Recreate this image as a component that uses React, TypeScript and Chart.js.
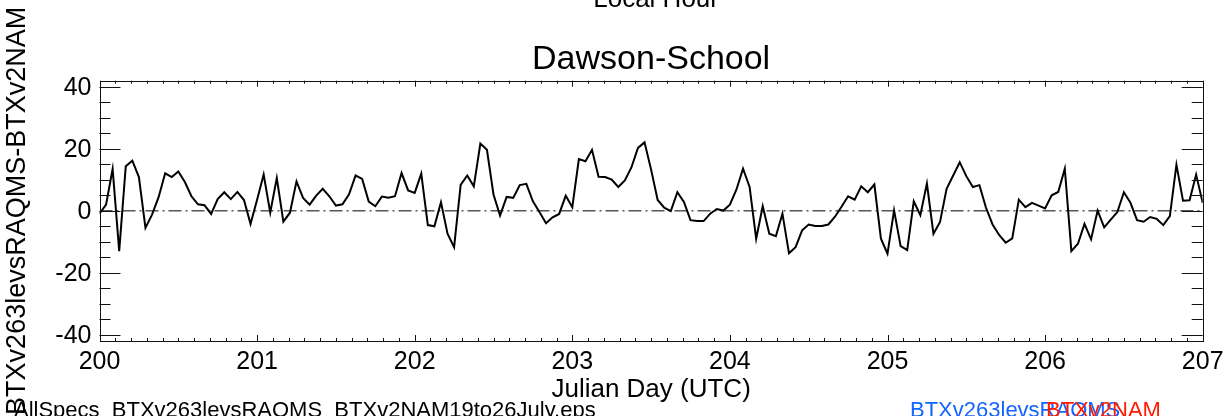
import { useEffect, useRef } from 'react';
import { Chart, registerables } from 'chart.js';

Chart.register(...registerables);

// ---- data ----
const startDay = 200;
const endDay = 207;
const samplesPerDay = 24; // hourly samples
const diffValues: number[] = [
  -0.9, 2.0, 13.5, -13.0, 14.4, 16.2, 10.9, -5.5, -1.2, 4.4, 12.1, 10.9,
  12.7, 9.3, 4.7, 2.1, 1.8, -1.0, 3.8, 6.0, 3.8, 6.1, 3.5, -4.2,
  3.6, 11.7, -0.6, 10.6, -3.5, -0.6, 9.5, 4.2, 2.0, 4.9, 7.1, 4.7,
  1.7, 2.1, 5.3, 11.4, 10.3, 3.0, 1.5, 4.6, 4.2, 4.7, 12.2, 6.6,
  5.8, 12.0, -4.6, -5.0, 2.8, -7.4, -11.7, 8.4, 11.4, 7.9, 21.7, 19.7,
  5.3, -1.5, 4.5, 4.2, 8.3, 8.7, 3.1, -0.4, -4.0, -2.1, -1.0, 4.9,
  1.2, 16.7, 16.0, 19.7, 11.0, 10.9, 10.1, 7.7, 9.8, 14.0, 20.3, 22.1,
  13.3, 3.5, 1.0, -0.1, 6.0, 2.9, -3.0, -3.3, -3.3, -0.9, 0.6, 0.1,
  2.0, 6.9, 13.6, 7.7, -9.0, 1.5, -7.4, -8.2, -0.9, -13.7, -11.7, -6.3,
  -4.4, -4.9, -4.9, -4.4, -1.9, 1.3, 4.7, 3.6, 7.9, 6.0, 8.5, -9.0,
  -13.8, 0.2, -11.4, -12.7, 3.1, -1.4, 8.8, -7.4, -3.6, 7.1, 11.4, 15.7,
  11.2, 7.7, 8.3, 1.0, -4.4, -7.8, -10.3, -8.9, 3.6, 1.2, 2.6, 1.7,
  0.8, 5.0, 6.1, 13.6, -13.0, -10.6, -4.2, -9.2, 0.1, -5.3, -2.8, -0.4,
  6.0, 2.6, -3.0, -3.5, -2.0, -2.6, -4.6, -1.7, 14.9, 3.3, 3.4, 11.7,
  2.6,
];
const zeroLineX = [200, 207];
const zeroLineY = [0, 0];
const xTickDays = [200, 201, 202, 203, 204, 205, 206, 207];
const yTickValues = [-40, -20, 0, 20, 40];
const yMin = -42;
const yMax = 42;
const xMinorStep = 0.1;
const yMinorStep = 5;

const topText = 'Local Hour';
const titleText = 'Dawson-School';
const xAxisTitle = 'Julian Day (UTC)';
const yAxisTitle = 'BTXv263levsRAQMS-BTXv2NAM';
const fileText = 'AllSpecs_BTXv263levsRAQMS_BTXv2NAM19to26July.eps';
const legendBlue = 'BTXv263levsRAQMS';
const legendRed = 'BTXv2NAM';

const FONT = '"Liberation Sans", Arial, Helvetica, sans-serif';

const decorPlugin = {
  id: 'idlDecor',
  afterDraw(chart: any) {
    const { ctx, chartArea } = chart;
    const xs = chart.scales.x;
    const ys = chart.scales.y;
    const { left, right, top, bottom } = chartArea;
    ctx.save();
    ctx.strokeStyle = '#111';
    ctx.lineWidth = 1;
    // frame
    ctx.strokeRect(Math.round(left) + 0.5, Math.round(top) + 0.5, Math.round(right - left), Math.round(bottom - top));

    // x ticks (top and bottom, inward)
    ctx.beginPath();
    const nX = Math.round((endDay - startDay) / xMinorStep);
    for (let i = 0; i <= nX; i++) {
      const v = startDay + i * xMinorStep;
      const major = i % 10 === 0;
      const len = major ? 6 : 3;
      const px = Math.round(xs.getPixelForValue(v)) + 0.5;
      ctx.moveTo(px, bottom);
      ctx.lineTo(px, bottom - len);
      ctx.moveTo(px, top);
      ctx.lineTo(px, top + len);
    }
    // y ticks (left and right, inward)
    for (let v = -40; v <= 40; v += yMinorStep) {
      const major = v % 20 === 0;
      const len = major ? 21 : 11;
      const py = Math.round(ys.getPixelForValue(v)) + 0.5;
      ctx.moveTo(left, py);
      ctx.lineTo(left + len, py);
      ctx.moveTo(right, py);
      ctx.lineTo(right - len, py);
    }
    ctx.stroke();

    ctx.fillStyle = '#000';
    // y tick labels
    ctx.font = `25px ${FONT}`;
    ctx.textAlign = 'right';
    ctx.textBaseline = 'middle';
    yTickValues.forEach((v) => {
      ctx.fillText(String(v), left - 8, ys.getPixelForValue(v) + 1);
    });
    // x tick labels
    ctx.textAlign = 'center';
    ctx.textBaseline = 'alphabetic';
    xTickDays.forEach((d) => {
      ctx.fillText(String(d), xs.getPixelForValue(d), bottom + 28);
    });

    const cx = (left + right) / 2;
    // title
    ctx.font = `34px ${FONT}`;
    ctx.fillText(titleText, cx, 69);
    // top cut text
    ctx.font = `26px ${FONT}`;
    ctx.fillText(topText, cx + 5, 7);
    // x axis title
    ctx.font = `26px ${FONT}`;
    ctx.fillText(xAxisTitle, cx, 397);

    // y axis title
    ctx.save();
    ctx.translate(25, (top + bottom) / 2);
    ctx.rotate(-Math.PI / 2);
    ctx.font = `27px ${FONT}`;
    ctx.textAlign = 'center';
    ctx.fillText(yAxisTitle, 0, 0);
    ctx.restore();

    // bottom texts
    ctx.font = `22px ${FONT}`;
    ctx.textAlign = 'left';
    ctx.fillText(fileText, 14, 417);
    ctx.fillStyle = '#1464ff';
    ctx.fillText(legendBlue, 910, 417);
    ctx.fillStyle = '#ff1a00';
    ctx.fillText(legendRed, 1046, 417);
    ctx.restore();
  },
};

export default function App() {
  const canvasRef = useRef<HTMLCanvasElement | null>(null);

  useEffect(() => {
    if (!canvasRef.current) return;
    const points = diffValues.map((v, i) => ({ x: startDay + i / samplesPerDay, y: v }));
    const zero = zeroLineX.map((x, i) => ({ x, y: zeroLineY[i] }));
    const chart = new Chart(canvasRef.current, {
      type: 'line',
      data: {
        datasets: [
          {
            data: zero,
            borderColor: '#000',
            borderWidth: 1,
            borderDash: [13, 4, 2, 4],
            pointRadius: 0,
            fill: false,
          },
          {
            data: points,
            borderColor: '#000',
            borderWidth: 2,
            pointRadius: 0,
            tension: 0,
            fill: false,
          },
        ],
      },
      options: {
        animation: false,
        responsive: false,
        maintainAspectRatio: false,
        layout: { padding: { left: 99.5, right: 24.3, top: 80.7, bottom: 75 } },
        plugins: { legend: { display: false }, tooltip: { enabled: false }, title: { display: false } },
        scales: {
          x: { type: 'linear', min: startDay, max: endDay, display: false },
          y: { type: 'linear', min: yMin, max: yMax, display: false },
        },
      },
      plugins: [decorPlugin],
    });
    return () => chart.destroy();
  }, []);

  return (
    <div style={{ position: 'fixed', left: 0, top: 0, width: 1227, height: 416, background: '#fff' }}>
      <canvas ref={canvasRef} width={1227} height={416} style={{ width: 1227, height: 416, display: 'block' }} />
    </div>
  );
}
